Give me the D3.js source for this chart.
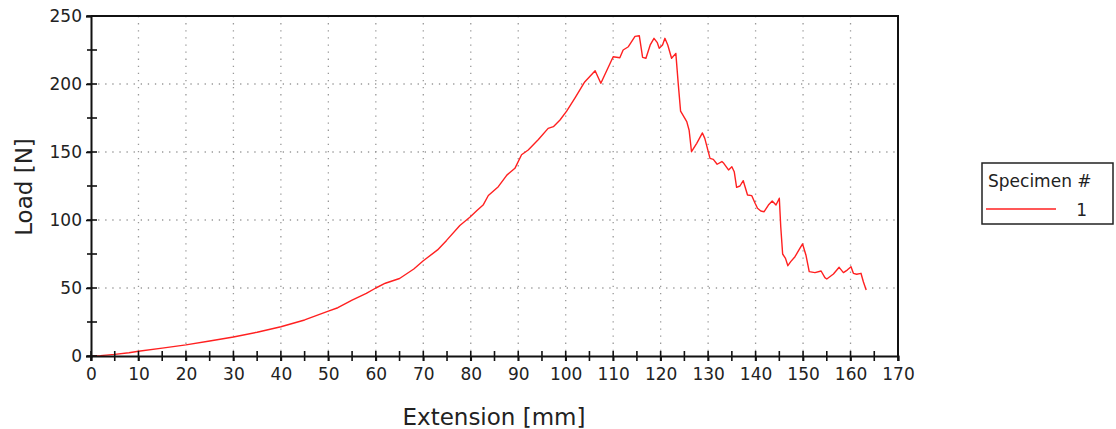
<!DOCTYPE html>
<html>
<head>
<meta charset="utf-8">
<script src="https://cdn.jsdelivr.net/npm/d3@7"></script>
<style>
  body { margin: 0; background: #fff; }
  text { font-family: "DejaVu Sans", Verdana, sans-serif; fill: #222; }
</style>
</head>
<body>
<script>

// extension [mm] and load [N]
var extension = [0, 2, 5, 8, 10, 15, 20, 25, 30, 35, 40, 45, 50, 52, 55, 58, 60, 62, 65, 68,
  70, 73, 74.9, 77.7, 79.8, 81.3, 82.6, 83.7, 85.8, 87.6, 89.3, 90.7, 92.1, 94.2, 96.3, 97.4, 98.8, 100.2, 102,
  104, 106.2, 107.4, 110, 111.4, 112.1, 113.2, 114.6, 115.5, 116.2, 116.9, 117.8, 118.6, 119.3, 119.7,
  120.4, 120.9, 121.5, 122.3, 123.2, 123.7, 124.2, 125.5, 126, 126.5, 127.6, 128.8, 129.3, 130.4, 131.1,
  131.9, 132.9, 133.3, 134.3, 135, 135.5, 136, 136.7, 137.4, 138.3, 139.2, 139.9, 140.4, 141.1, 141.8,
  142.7, 143.5, 144.3, 145, 145.3, 145.7, 146.3, 146.8, 147.4, 148.3, 149.2, 149.9, 150.6, 151.3, 152.5,
  153.8, 154.6, 155, 156.4, 157.6, 158.5, 159.3, 160.1, 160.6, 161.3, 162.2, 162.7, 163.3];
var load = [0, 0.3, 1.2, 2.4, 3.5, 5.8, 8.2, 11, 14, 17.5, 21.5, 26.5, 33, 35.5, 41, 46, 50, 53.5, 57, 64,
  70, 78, 85, 96, 102, 107, 111, 118, 124.5, 133, 138, 148, 151.5, 159, 167.4, 168.6, 173.5, 180, 190,
  201.5, 209.8, 200.5, 220, 219.3, 225, 227.4, 235, 235.5, 219.6, 218.9, 228.7, 233.6, 230.4, 226.3,
  228.7, 233.6, 228.7, 218.9, 222.5, 200.5, 180, 172.3, 166, 150.2, 156.4, 164, 160, 145.3, 144.6,
  141, 143, 141.7, 136.8, 139.2, 135.5, 124, 125, 128.9, 118.4, 117.9, 112.3, 108.6, 106.6, 106.1,
  111, 114, 111, 116, 95, 75, 71.8, 66.4, 69.4, 73, 78.4, 82.4, 74.3, 62, 61.3,
  62.5, 57.6, 56.6, 60.3, 65.2, 61.3, 63.2, 65.7, 60.8, 60.1, 60.8, 54.6, 48.5];

var specimens = ["1"];
var xTicks = d3.range(0, 171, 10);
var yTicks = [0, 50, 100, 150, 200, 250];

var data = extension.map(function(e, i){ return {ext: e, load: load[i]}; });

var margin = {left: 91, top: 16};
var width = 807, height = 340;

var svg = d3.select("body").append("svg").attr("width", 1116).attr("height", 429);

var xScale = d3.scaleLinear().domain([0, 170]).range([0, width]);
var yScale = d3.scaleLinear().domain([0, 250]).range([height, 0]);

var chartGroup = svg.append("g")
    .attr("transform", "translate(" + margin.left + "," + margin.top + ")");

// GRID
chartGroup.selectAll(".vgrid").data(xTicks.slice(1, -1)).enter().append("line")
    .attr("x1", function(d){ return xScale(d); }).attr("x2", function(d){ return xScale(d); })
    .attr("y1", 0).attr("y2", height)
    .attr("stroke", "#999").attr("stroke-width", 1.3).attr("stroke-dasharray", "1.3,5.8");
chartGroup.selectAll(".hgrid").data(yTicks.slice(1, -1)).enter().append("line")
    .attr("x1", 0).attr("x2", width)
    .attr("y1", function(d){ return yScale(d); }).attr("y2", function(d){ return yScale(d); })
    .attr("stroke", "#999").attr("stroke-width", 1.3).attr("stroke-dasharray", "1.3,5.8");

// FRAME (top + right)
chartGroup.append("path")
    .attr("d", "M0,0H" + width + "V" + height)
    .attr("fill", "none").attr("stroke", "#111").attr("stroke-width", 2);

// CHART LINE
var line = d3.line()
    .x(function(d){ return xScale(d.ext); })
    .y(function(d){ return yScale(d.load); });

chartGroup.append("path")
    .attr("d", line(data))
    .attr("fill", "none").attr("stroke", "#ff2020").attr("stroke-width", 1.4)
    .attr("stroke-linejoin", "round");

// AXES
var xAxis = d3.axisBottom(xScale).tickValues(xTicks).tickSize(5).tickPadding(7);
var yAxis = d3.axisLeft(yScale).tickValues(yTicks).tickSize(5).tickPadding(4);

function styleAxis(g){
    g.select(".domain").attr("stroke", "#111").attr("stroke-width", 2);
    g.selectAll(".tick line").attr("stroke", "#111").attr("stroke-width", 1.6);
    g.selectAll(".tick text").style("font-size", "17px").attr("fill", "#222");
}

// minor + inner tick marks
var xMinor = d3.range(0, 171, 5);
chartGroup.selectAll(".xminor").data(xMinor).enter().append("line")
    .attr("x1", function(d){ return xScale(d); }).attr("x2", function(d){ return xScale(d); })
    .attr("y1", height - 5).attr("y2", height + 5)
    .attr("stroke", "#111").attr("stroke-width", 1.6);
var yMinor = d3.range(0, 251, 25);
chartGroup.selectAll(".yminor").data(yMinor).enter().append("line")
    .attr("x1", -4).attr("x2", 6)
    .attr("y1", function(d){ return yScale(d); }).attr("y2", function(d){ return yScale(d); })
    .attr("stroke", "#111").attr("stroke-width", 1.6);

chartGroup.append("g")
    .attr("transform", "translate(0," + height + ")")
    .call(xAxis).call(styleAxis);

chartGroup.append("g")
    .call(yAxis).call(styleAxis);

// AXIS TITLES
svg.append("text")
    .attr("x", 494).attr("y", 425)
    .attr("text-anchor", "middle").style("font-size", "23px")
    .text("Extension [mm]");

svg.append("text")
    .attr("transform", "translate(32,187) rotate(-90)")
    .attr("text-anchor", "middle").style("font-size", "23px")
    .text("Load [N]");

// LEGEND
var legend = svg.append("g").attr("transform", "translate(982,163)");
legend.append("rect")
    .attr("width", 131).attr("height", 61)
    .attr("fill", "#fff").attr("stroke", "#222").attr("stroke-width", 1.5);
legend.append("text").attr("x", 6).attr("y", 24).style("font-size", "17px").text("Specimen #");
legend.selectAll(".item").data(specimens).enter().append("g")
    .each(function(d){
        var g = d3.select(this);
        g.append("line").attr("x1", 4).attr("x2", 74).attr("y1", 46).attr("y2", 46)
            .attr("stroke", "#ff2020").attr("stroke-width", 1.4);
        g.append("text").attr("x", 105).attr("y", 53).attr("text-anchor", "end")
            .style("font-size", "17px").text(d);
    });

</script>
</body>
</html>
